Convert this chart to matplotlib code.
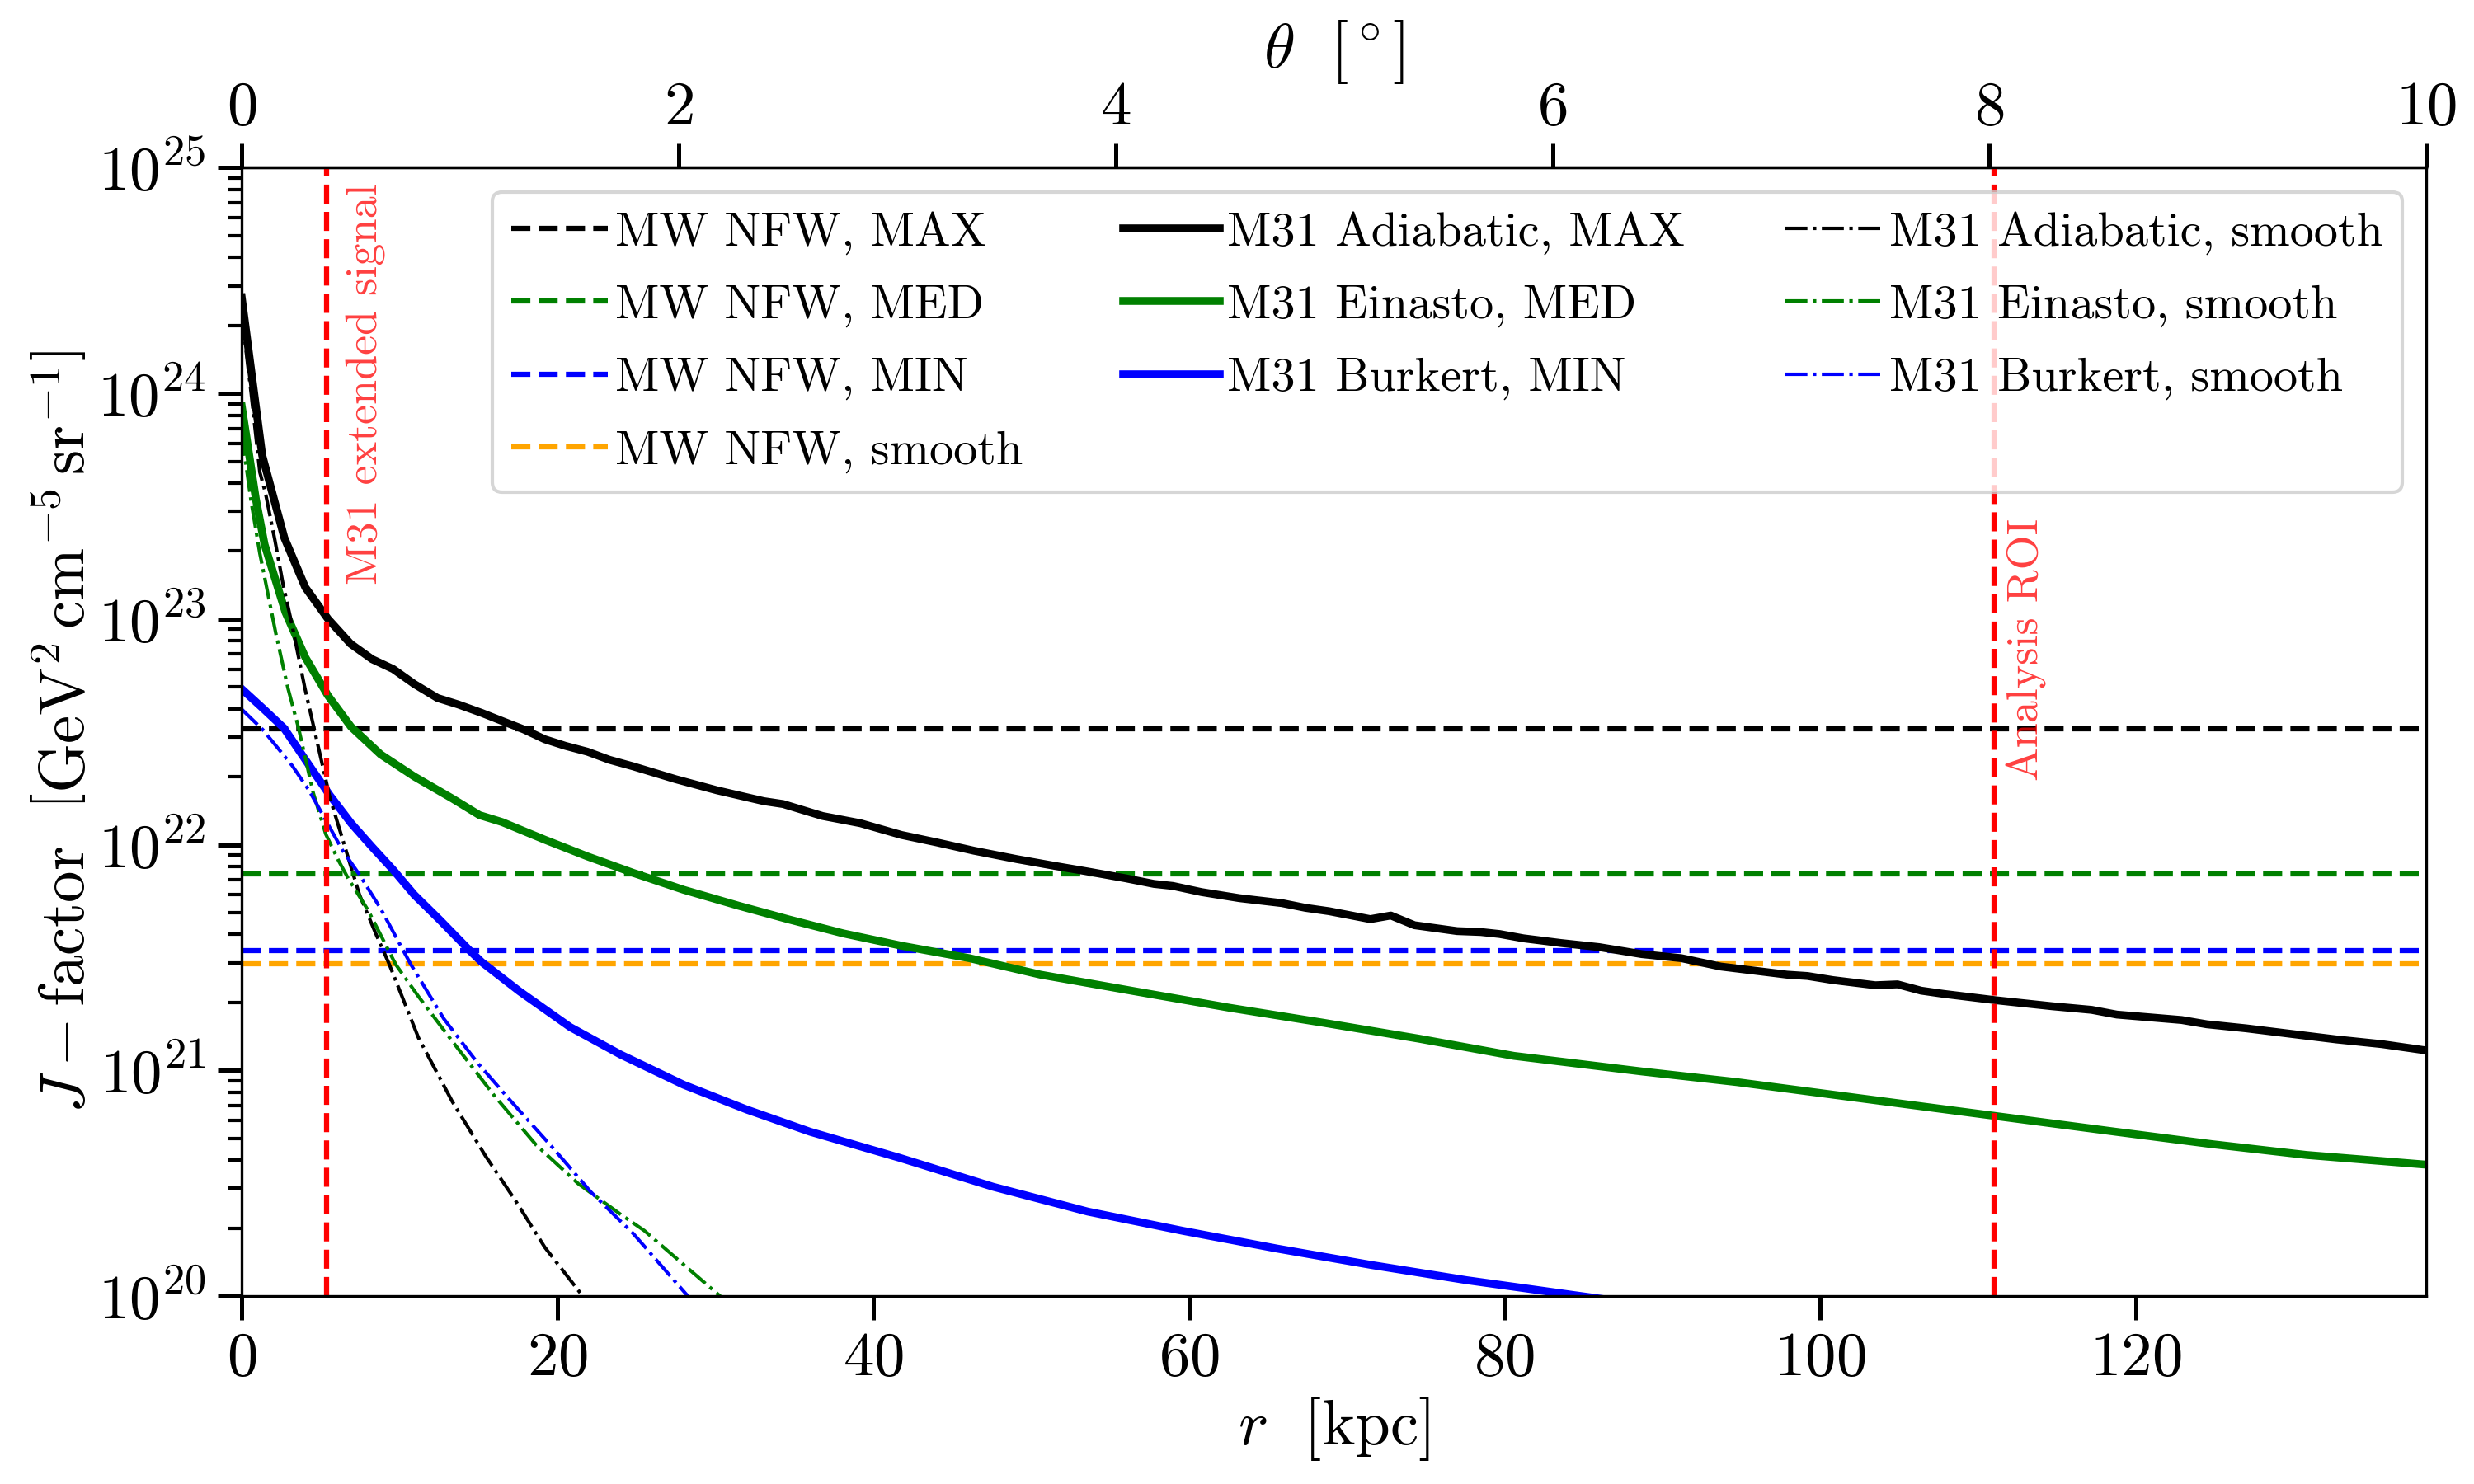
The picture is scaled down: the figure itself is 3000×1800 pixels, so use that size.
import numpy as np
import matplotlib
matplotlib.use("Agg")
import matplotlib.pyplot as plt

plt.rcParams["font.family"] = "serif"
plt.rcParams["font.serif"] = ["cmr10"]
plt.rcParams["mathtext.fontset"] = "cm"
plt.rcParams["axes.formatter.use_mathtext"] = True
plt.rcParams["axes.unicode_minus"] = False

# ---------------- data ----------------
R_MAX = 138.4  # kpc, corresponds to 10 deg
TH_MAX = 10.0  # deg
R_EXT = 5.4    # M31 extended signal
R_ROI = 111.0  # Analysis ROI (8 deg)

# MW NFW J-factors (constant)
mw_labels = [r"MW NFW, MAX", r"MW NFW, MED", r"MW NFW, MIN", r"MW NFW, smooth"]
mw_values = [3.25e22, 7.4e21, 3.4e21, 2.97e21]
mw_colors = ["black", "green", "blue", "orange"]

# M31 Adiabatic, MAX  (r in kpc, log10 J)
r_adi_max = [0.0, 1.3, 2.7, 4.03, 5.47, 6.9, 8.26, 9.6, 10.93, 12.4, 13.73, 15.2, 16.5,
             17.86, 19.2, 20.5, 21.9, 23.3, 24.8, 27.5, 30.1, 33.06, 34.3, 36.8, 39.2,
             41.8, 44.04, 46.4, 49.1, 51.5, 53.6, 56.0, 57.8, 59.0, 60.8, 63.2, 65.9,
             67.4, 68.9, 71.5, 72.8, 74.3, 77.0, 78.5, 79.7, 81.2, 83.6, 86.0, 88.7,
             91.2, 93.7, 97.9, 99.2, 100.8, 103.5, 104.9, 106.4, 107.8, 111.2, 114.7,
             117.2, 118.8, 122.9, 124.5, 127.0, 129.9, 132.7, 135.6, 138.4]
logj_adi_max = [24.425, 23.725, 23.36, 23.14, 23.0, 22.89, 22.822, 22.778, 22.712, 22.65,
                22.621, 22.584, 22.548, 22.511, 22.467, 22.438, 22.412, 22.376, 22.347,
                22.29, 22.241, 22.193, 22.18, 22.127, 22.095, 22.043, 22.01, 21.973,
                21.936, 21.906, 21.881, 21.851, 21.826, 21.817, 21.79, 21.763, 21.741,
                21.72, 21.705, 21.67, 21.686, 21.643, 21.617, 21.613, 21.604, 21.585,
                21.564, 21.546, 21.515, 21.497, 21.46, 21.424, 21.418, 21.40, 21.377,
                21.381, 21.353, 21.339, 21.31, 21.284, 21.268, 21.247, 21.223, 21.204,
                21.186, 21.161, 21.137, 21.116, 21.088]

# M31 Einasto, MED
r_ein_med = [0.0, 0.9, 1.45, 2.77, 4.03, 5.47, 6.93, 8.8, 10.93, 13.33, 15.06, 16.5, 19.2,
             21.9, 24.8, 28.0, 31.5, 34.7, 38.1, 41.8, 46.1, 50.6, 56.6, 62.6, 68.6, 74.6,
             80.6, 88.7, 94.7, 100.7, 106.7, 112.7, 118.7, 124.8, 130.8, 138.4]
logj_ein_med = [23.944, 23.53, 23.33, 23.03, 22.83, 22.66, 22.522, 22.40, 22.302, 22.205,
                22.131, 22.10, 22.022, 21.948, 21.875, 21.80, 21.729, 21.668, 21.607,
                21.552, 21.497, 21.424, 21.35, 21.277, 21.21, 21.14, 21.064, 20.995,
                20.948, 20.893, 20.838, 20.783, 20.728, 20.673, 20.625, 20.582]

# M31 Burkert, MIN
r_bur_min = [0.0, 1.33, 2.67, 4.27, 5.6, 6.93, 8.26, 9.6, 10.93, 12.53, 14.4, 15.2, 17.6,
             20.8, 24.0, 28.0, 32.0, 36.0, 41.7, 47.6, 53.6, 59.6, 65.6, 71.6, 77.6, 84.5, 90.0]
logj_bur_min = [22.69, 22.605, 22.517, 22.352, 22.217, 22.095, 21.99, 21.888, 21.778,
                21.668, 21.534, 21.48, 21.35, 21.192, 21.07, 20.936, 20.826, 20.728,
                20.612, 20.484, 20.374, 20.289, 20.21, 20.137, 20.07, 20.003, 19.95]

# M31 Adiabatic, smooth
r_adi_sm = [0.0, 0.6, 1.15, 1.5, 2.1, 2.63, 3.2, 4.0, 4.8, 5.6, 6.4, 7.46, 8.53, 9.33,
            11.2, 13.33, 15.46, 17.33, 19.2, 21.6, 22.5]
logj_adi_sm = [24.35, 24.0, 23.65, 23.56, 23.35, 23.15, 22.97, 22.694, 22.449, 22.205,
               22.022, 21.778, 21.6, 21.473, 21.144, 20.863, 20.619, 20.424, 20.216, 20.0, 19.92]

# M31 Einasto, smooth
r_ein_sm = [0.0, 0.6, 1.15, 2.15, 2.93, 3.59, 4.53, 5.33, 6.13, 6.75, 8.0, 9.75, 11.2,
            13.33, 16.0, 18.67, 21.33, 24.0, 25.5, 30.3, 31.0]
logj_ein_sm = [23.82, 23.52, 23.29, 22.94, 22.693, 22.52, 22.23, 22.046, 21.93, 21.85,
               21.71, 21.47, 21.327, 21.13, 20.888, 20.668, 20.497, 20.362, 20.29, 20.0, 19.96]

# M31 Burkert, smooth
r_bur_sm = [0.0, 1.33, 3.2, 4.27, 5.33, 6.4, 7.46, 8.8, 10.7, 12.8, 14.93, 17.06, 19.73,
            22.13, 24.8, 28.26, 29.0]
logj_bur_sm = [22.60, 22.51, 22.35, 22.24, 22.108, 21.973, 21.867, 21.717, 21.471, 21.229,
               21.034, 20.863, 20.655, 20.46, 20.277, 20.0, 19.94]

# ---------------- plot ----------------
fig = plt.figure(figsize=(10, 6), dpi=300)
ax = fig.add_axes([0.0977, 0.1267, 0.9807 - 0.0977, 0.887 - 0.1267])

handles = []
for lab, val, col in zip(mw_labels, mw_values, mw_colors):
    h = ax.axhline(val, color=col, ls="--", lw=1.5, label=lab)
    handles.append(h)

solid = [(r_adi_max, logj_adi_max, "black", "M31 Adiabatic, MAX"),
         (r_ein_med, logj_ein_med, "green", "M31 Einasto, MED"),
         (r_bur_min, logj_bur_min, "blue", "M31 Burkert, MIN")]
for r, lj, col, lab in solid:
    h, = ax.plot(r, 10 ** np.asarray(lj), color=col, lw=2.3, label=lab)
    handles.append(h)

smooth = [(r_adi_sm, logj_adi_sm, "black", "M31 Adiabatic, smooth"),
          (r_ein_sm, logj_ein_sm, "green", "M31 Einasto, smooth"),
          (r_bur_sm, logj_bur_sm, "blue", "M31 Burkert, smooth")]
for r, lj, col, lab in smooth:
    h, = ax.plot(r, 10 ** np.asarray(lj), color=col, lw=1.0, ls="-.", label=lab)
    handles.append(h)

ax.axvline(R_EXT, color="red", ls="--", lw=1.5)
ax.axvline(R_ROI, color="red", ls="--", lw=1.5)
ax.text(R_EXT + 1.2, 8.5e24, "M31 extended signal", rotation=90, color="red", alpha=0.75,
        fontsize=13, ha="left", va="top")
ax.text(R_ROI + 0.8, 2.8e23, "Analysis ROI", rotation=90, color="red", alpha=0.75,
        fontsize=13, ha="left", va="top")

ax.set_yscale("log")
ax.set_xlim(0, R_MAX)
ax.set_ylim(1e20, 1e25)
ax.set_xticks([0, 20, 40, 60, 80, 100, 120])

ax.tick_params(axis="both", which="major", direction="out", length=7, width=1.2,
               labelsize=18, top=False, right=False)
ax.tick_params(axis="both", which="minor", direction="out", length=4, width=1.0,
               top=False, right=False)

ax.set_xlabel(r"$r\ \ [\mathrm{kpc}]$", fontsize=18.5, labelpad=2)
ax.set_ylabel(r"$J-\mathrm{factor}\ \ \left[\mathrm{GeV}^{2}\,\mathrm{cm}^{-5}\,\mathrm{sr}^{-1}\right]$",
              fontsize=18.5, labelpad=0)

def r2th(r):
    return np.asarray(r, dtype=float) * TH_MAX / R_MAX

def th2r(t):
    return np.asarray(t, dtype=float) * R_MAX / TH_MAX

sec = ax.secondary_xaxis("top", functions=(r2th, th2r))
sec.set_xticks([0, 2, 4, 6, 8, 10])
sec.tick_params(axis="x", which="major", direction="out", length=7, width=1.2,
                labelsize=18, pad=2)
sec.tick_params(axis="x", which="minor", length=0)
sec.set_xlabel(r"$\theta\ \ [^\circ]$", fontsize=18.5, labelpad=4)

ax.legend(handles=handles, ncol=3, loc="upper right", fontsize=14,
          handletextpad=0.15, columnspacing=2.1, labelspacing=0.62)

fig.savefig("out.png", dpi=300)
